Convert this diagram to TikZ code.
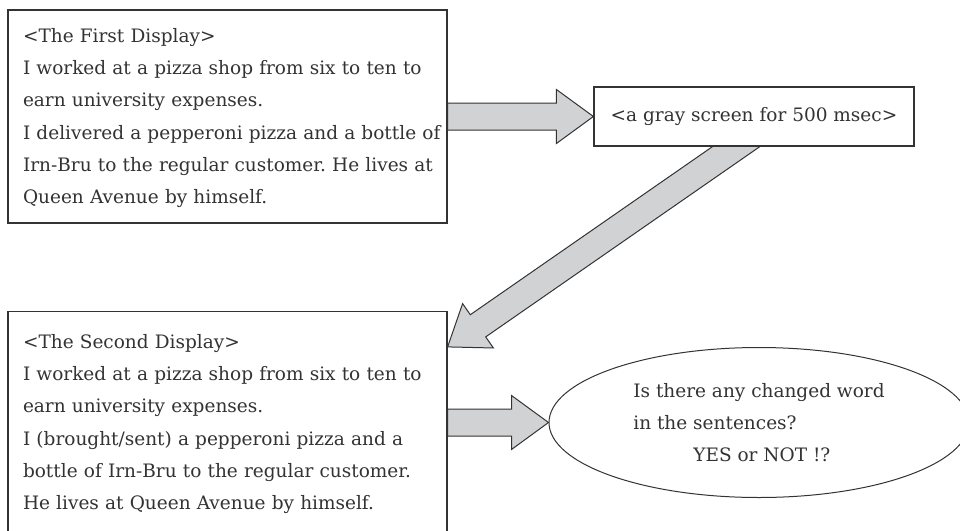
\documentclass[tikz,border=0pt]{standalone}
\usepackage{fontspec}
\setmainfont{DejaVu Serif}
\usetikzlibrary{shapes.geometric,calc,backgrounds}
\definecolor{inkgray}{HTML}{333333}
\definecolor{arrowfill}{HTML}{D1D2D4}

\begin{document}
\begin{tikzpicture}[x=1pt,y=-1pt,
        txt/.style={text=inkgray,font=\fontsize{18.5}{32.2}\selectfont\frenchspacing},
        display/.style={txt,draw=inkgray,line width=1.2pt,fill=white,text width=409pt,inner xsep=15pt},
        screen/.style={txt,draw=inkgray,line width=1.2pt,fill=white,minimum width=320pt,minimum height=59pt},
        question/.style={txt,ellipse,draw=inkgray,line width=1pt,fill=white,align=left,minimum width=420pt,minimum height=150pt},
        fatarrow/.style={draw=inkgray,fill=arrowfill,line width=1pt,to path={
            ($(\tikztostart)!13.5pt!90:(\tikztotarget)$)
            -- ($($(\tikztotarget)!37pt!(\tikztostart)$)!13.5pt!90:(\tikztotarget)$)
            -- ($($(\tikztotarget)!37pt!(\tikztostart)$)!27pt!90:(\tikztotarget)$)
            -- (\tikztotarget)
            -- ($($(\tikztotarget)!37pt!(\tikztostart)$)!27pt!-90:(\tikztotarget)$)
            -- ($($(\tikztotarget)!37pt!(\tikztostart)$)!13.5pt!-90:(\tikztotarget)$)
            -- ($(\tikztostart)!13.5pt!-90:(\tikztotarget)$) -- cycle}}]
    \useasboundingbox (0,0) rectangle (960,530);
    \node[display,minimum height=213pt] (first) at (227.5,116.5) {\begin{tabular}{@{}l@{}}
        <The First Display>\\
        I worked at a pizza shop from six to ten to\\
        earn university expenses.\\
        I delivered a pepperoni pizza and a bottle of\\
        Irn-Bru to the regular customer. He lives at\\
        Queen Avenue by himself.\end{tabular}};
    \node[screen] (gray) at (754,116.5) {<a gray screen for 500 msec>};
    \node[display,minimum height=222pt] (second) at (227.5,422.5) {\begin{tabular}{@{}l@{}}
        <The Second Display>\\
        I worked at a pizza shop from six to ten to\\
        earn university expenses.\\
        I (brought/sent) a pepperoni pizza and a\\
        bottle of Irn-Bru to the regular customer.\\
        He lives at Queen Avenue by himself.\end{tabular}};
    \node[question] (ask) at (759,422.5) {Is there any changed word\\
        in the sentences?\\
        \hspace*{60pt}YES or NOT !?};
    \coordinate (dtail) at ([shift={(11pt,20pt)}]gray.south);
    \coordinate (dtip) at ([yshift=-36pt]second.north east);
    \begin{scope}[on background layer]
        \draw[fatarrow] (first.east) to (gray.west);
        \draw[fatarrow] (dtail) to (dtip);
        \draw[fatarrow] (second.east) to (ask.west);
    \end{scope}
\end{tikzpicture}
\end{document}
